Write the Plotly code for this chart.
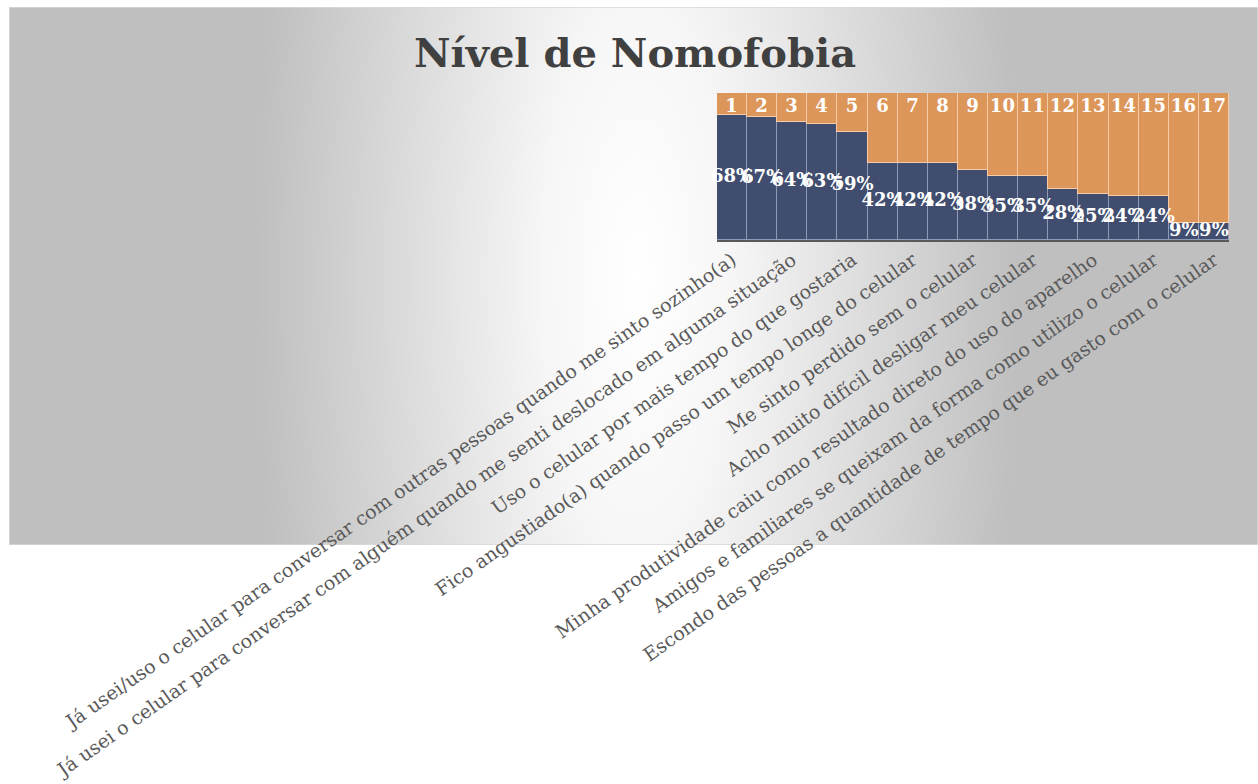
import base64
import plotly.graph_objects as go

# ---------------- data ----------------
bar_numbers = list(range(1, 18))
percent_values = [68, 67, 64, 63, 59, 42, 42, 42, 38, 35, 35, 28, 25, 24, 24, 9, 9]
axis_max = 80
tick_positions = [1, 3, 5, 7, 9, 11, 13, 15, 17]
tick_labels = [
    "Já usei/uso o celular para conversar com outras pessoas quando me sinto sozinho(a)",
    "Já usei o celular para conversar com alguém quando me senti deslocado em alguma situação",
    "Uso o celular por mais tempo do que gostaria",
    "Fico angustiado(a) quando passo um tempo longe do celular",
    "Me sinto perdido sem o celular",
    "Acho muito difícil desligar meu celular",
    "Minha produtividade caiu como resultado direto do uso do aparelho",
    "Amigos e familiares se queixam da forma como utilizo o celular",
    "Escondo das pessoas a quantidade de tempo que eu gasto com o celular",
]
title_text = "Nível de Nomofobia"

# ---------------- layout constants ----------------
W, H = 1258, 784
ML, MR, MT, MB = 717, 29, 93, 544
plot_w = W - ML - MR
plot_h = H - MT - MB
# chart-area background rectangle (pixels)
BG_X0, BG_X1, BG_Y0, BG_Y1 = 9, 1258, 7, 545

BLUE = "#404D6E"
ORANGE = "#DC965A"
SERIF = "DejaVu Serif"

rest_values = [axis_max - v for v in percent_values]
percent_text = [f"{v}%" for v in percent_values]
number_text = [str(n) for n in bar_numbers]

# radial gradient background as an svg image
bw, bh = BG_X1 - BG_X0, BG_Y1 - BG_Y0
cx = 637 - BG_X0
cy = 269
svg = f'''<svg xmlns="http://www.w3.org/2000/svg" width="{bw}" height="{bh}" viewBox="0 0 {bw} {bh}" preserveAspectRatio="none">
<defs><radialGradient id="g" gradientUnits="userSpaceOnUse" cx="0" cy="0" r="1" gradientTransform="translate({cx},{cy}) scale(380,1100)">
<stop offset="0" stop-color="#FFFFFF"/><stop offset="0.25" stop-color="#F6F6F6"/><stop offset="1" stop-color="#BFBFBF"/></radialGradient></defs>
<rect x="0" y="0" width="{bw}" height="{bh}" fill="url(#g)" stroke="#D9D9D9" stroke-width="1.5"/>
</svg>'''
svg_uri = "data:image/svg+xml;base64," + base64.b64encode(svg.encode("utf-8")).decode("ascii")

fig = go.Figure()
fig.add_trace(go.Bar(
    x=bar_numbers, y=percent_values, marker=dict(color=BLUE, line=dict(color="#8E9BB6", width=1.2)),
    hoverinfo="skip", showlegend=False,
))
fig.add_trace(go.Bar(
    x=bar_numbers, y=rest_values, marker=dict(color=ORANGE, line=dict(color="#F7CBA6", width=1.2)),
    text=number_text, textposition="inside", insidetextanchor="end", textangle=0,
    constraintext="none",
    textfont=dict(family=SERIF, size=18, color="white", weight="bold"),
    hoverinfo="skip", showlegend=False,
))
fig.add_trace(go.Scatter(
    x=bar_numbers, y=[v / 2 for v in percent_values], mode="text", text=percent_text,
    textposition="middle center", cliponaxis=False,
    textfont=dict(family=SERIF, size=18, color="white", weight="bold"),
    hoverinfo="skip", showlegend=False,
))

fig.update_layout(
    width=W, height=H,
    margin=dict(l=ML, r=MR, t=MT, b=MB, autoexpand=False),
    barmode="stack", bargap=0,
    paper_bgcolor="white", plot_bgcolor="rgba(0,0,0,0)",
    title=dict(text=f"<b>{title_text}</b>", x=635 / W, xanchor="center", y=1 - 53 / H, yanchor="middle",
               xref="container", yref="container",
               font=dict(family=SERIF, size=40, color="#404040")),
    xaxis=dict(range=[0.5, 17.5], tickmode="array", tickvals=tick_positions, ticktext=tick_labels,
               tickangle=-35, showgrid=False, zeroline=False, showline=True, linecolor="#595959", linewidth=1.5,
               ticks="", automargin=False, tickfont=dict(family=SERIF, size=19, color="#595959")),
    yaxis=dict(range=[0, axis_max], visible=False, automargin=False),
    images=[dict(source=svg_uri, xref="paper", yref="paper",
                 x=(BG_X0 - ML) / plot_w, y=(H - MB - BG_Y0) / plot_h,
                 sizex=bw / plot_w, sizey=bh / plot_h, xanchor="left", yanchor="top",
                 sizing="stretch", layer="below")],
)

fig.write_html("out.html")
